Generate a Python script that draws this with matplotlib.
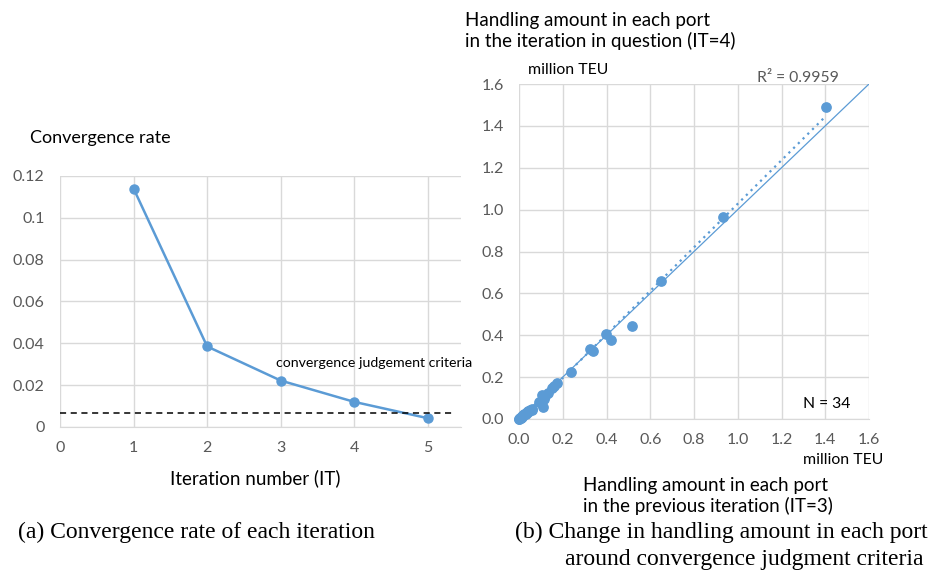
import numpy as np
import matplotlib
matplotlib.use('Agg')
import matplotlib.pyplot as plt

# (a) convergence rate per iteration
iterations = [1, 2, 3, 4, 5]
conv_rate = [0.114, 0.0385, 0.0222, 0.012, 0.0042]
criteria = 0.0067

# (b) handling amount per port, million TEU (IT=3 vs IT=4)
prev_it = [1.403, 0.933, 0.649, 0.517, 0.398, 0.420, 0.325, 0.336, 0.238, 0.172,
           0.162, 0.152, 0.133, 0.118, 0.107, 0.108, 0.112, 0.090, 0.060, 0.058,
           0.050, 0.043, 0.040, 0.035, 0.030, 0.025, 0.020, 0.015, 0.012, 0.008,
           0.006, 0.004, 0.002, 0.001]
curr_it = [1.490, 0.965, 0.659, 0.444, 0.406, 0.377, 0.336, 0.327, 0.224, 0.172,
           0.160, 0.150, 0.124, 0.112, 0.115, 0.058, 0.094, 0.080, 0.045, 0.050,
           0.043, 0.040, 0.033, 0.035, 0.025, 0.022, 0.018, 0.012, 0.010, 0.007,
           0.005, 0.003, 0.002, 0.001]
diag = [0, 1.6]

blue = '#5B9BD5'
grid_c = '#D9D9D9'
tick_c = '#595959'
font = ['Lato', 'DejaVu Sans']
serif = ['Liberation Serif', 'DejaVu Serif']

plt.rcParams['font.family'] = font

fig = plt.figure(figsize=(9.4, 5.74), dpi=100)


def style_axes(ax):
    ax.grid(True, color=grid_c, linewidth=1)
    ax.set_axisbelow(True)
    for s in ax.spines.values():
        s.set_visible(False)
    ax.spines['bottom'].set_visible(True)
    ax.spines['bottom'].set_color(grid_c)
    ax.tick_params(length=0, labelsize=11.5, labelcolor=tick_c)
    ax.tick_params(axis='x', pad=10)
    ax.tick_params(axis='y', pad=11)


# left chart
ax1 = fig.add_axes([60 / 940, 1 - 427 / 574, 401 / 940, 251 / 574])
style_axes(ax1)
ax1.plot(iterations, conv_rate, color=blue, linewidth=1.8, marker='o', markersize=6.5)
ax1.plot([0, 5.35], [criteria, criteria], color='black', linestyle=(0, (4, 3)), linewidth=1.1)
ax1.set_xlim(0, 5.45)
ax1.set_ylim(0, 0.12)
ax1.set_xticks([0, 1, 2, 3, 4, 5])
ax1.set_yticks([0, 0.02, 0.04, 0.06, 0.08, 0.1, 0.12])
ax1.set_yticklabels(['0', '0.02', '0.04', '0.06', '0.08', '0.1', '0.12'])
ax1.text(2.94, 0.0305, 'convergence judgement criteria', fontsize=10.2, color='black',
         ha='left', va='center')

fig.text(30 / 940, 1 - 138 / 574, 'Convergence rate', fontsize=13, va='center', ha='left')
fig.text(255 / 940, 1 - 478 / 574, 'Iteration number (IT)', fontsize=13.5, va='center', ha='center')
fig.text(18 / 940, 1 - 532 / 574, '(a) Convergence rate of each iteration', fontsize=17,
         family=serif, va='center', ha='left')

# right chart
ax2 = fig.add_axes([519 / 940, 1 - 419 / 574, 350 / 940, 335 / 574])
style_axes(ax2)
ax2.plot(diag, diag, color=blue, linewidth=0.9)
slope, icpt = np.polyfit(prev_it, curr_it, 1)
fit_x = np.array([min(prev_it), max(prev_it)])
ax2.plot(fit_x, slope * fit_x + icpt, color=blue, linestyle=(0, (1, 2)), linewidth=1.6)
ax2.scatter(prev_it, curr_it, s=45, color=blue, zorder=3, clip_on=False)
ax2.set_xlim(0, 1.6)
ax2.set_ylim(0, 1.6)
ticks = np.arange(0, 1.61, 0.2)
ax2.set_xticks(ticks)
ax2.set_yticks(ticks)
ax2.set_xticklabels([f'{t:.1f}' for t in ticks])
ax2.set_yticklabels([f'{t:.1f}' for t in ticks])
ax2.text(1.463, 1.63, 'R² = 0.9959', fontsize=11.3, color=tick_c, ha='right', va='center')
ax2.text(1.408, 0.072, 'N = 34', fontsize=11.3, color='black', ha='center', va='center')

fig.text(465 / 940, 1 - 31 / 574, 'Handling amount in each port\nin the iteration in question (IT=4)',
         fontsize=13.5, va='center', ha='left', linespacing=1.25)
fig.text(528 / 940, 1 - 70 / 574, 'million TEU', fontsize=11.4, va='center', ha='left')
fig.text(843 / 940, 1 - 460 / 574, 'million TEU', fontsize=11.4, va='center', ha='center')
fig.text(583 / 940, 1 - 496 / 574, 'Handling amount in each port\nin the previous iteration (IT=3)',
         fontsize=13.5, va='center', ha='left', linespacing=1.25)
fig.text(515 / 940, 1 - 532 / 574, '(b) Change in handling amount in each port',
         fontsize=17, family=serif, va='center', ha='left')
fig.text(565 / 940, 1 - 560 / 574, 'around convergence judgment criteria',
         fontsize=17, family=serif, va='center', ha='left')

fig.savefig('out.png', dpi=100)
plt.close(fig)
